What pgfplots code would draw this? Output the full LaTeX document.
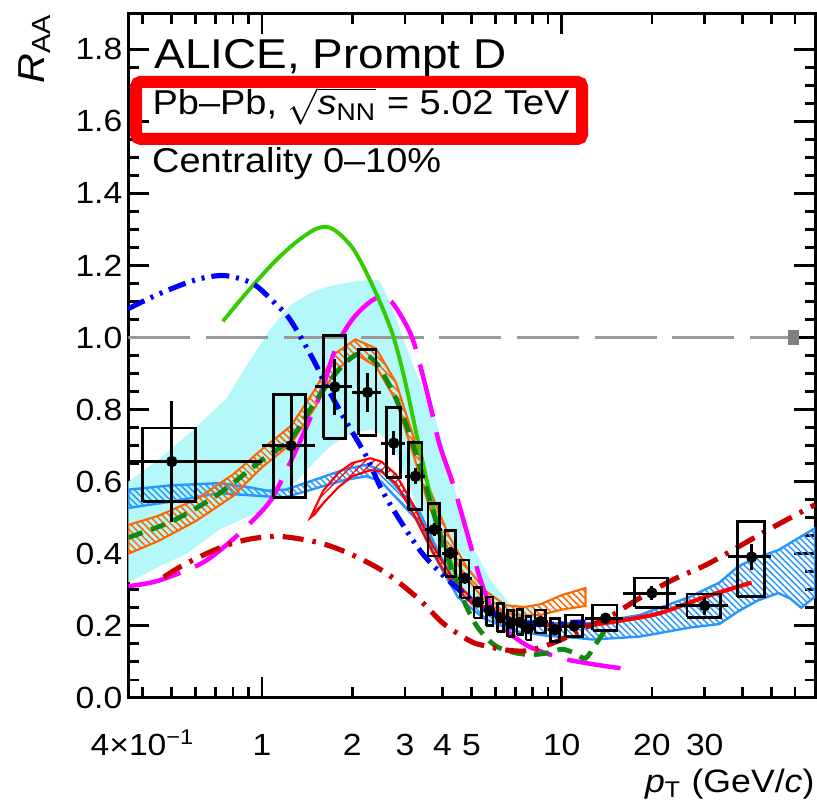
\documentclass[border=0pt]{standalone}
\usepackage{pgfplots}
\pgfplotsset{compat=1.18}
\usepackage{amsmath}
\usepackage{fontspec}
\setmainfont{Liberation Sans}[FakeStretch=1.1]
\usetikzlibrary{patterns,patterns.meta}
\definecolor{cyanband}{RGB}{180,248,250}
\definecolor{bandblue}{RGB}{40,150,255}
\definecolor{bandorange}{RGB}{255,102,0}
\definecolor{lgreen}{RGB}{51,204,0}
\definecolor{dgreen}{RGB}{17,136,17}
\definecolor{magL}{RGB}{255,0,255}
\definecolor{dred}{RGB}{204,0,0}
\definecolor{refgray}{RGB}{153,153,153}
\definecolor{normgray}{RGB}{128,128,128}
\begin{document}
\begin{tikzpicture}
\begin{axis}[
  scale only axis,
  width=228.9pt, height=228.2pt,
  xmode=log, xmin=0.358, xmax=70,
  ymin=0, ymax=1.9,
  axis line style={line width=1pt},
  every tick/.style={black, line width=0.9pt},
  tick align=inside,
  major tick length=7pt, minor tick length=3.5pt,
  xtick={1,10}, xticklabels={1,10},
  minor xtick={0.4,0.5,0.6,0.7,0.8,0.9,2,3,4,5,6,7,8,9,20,30,40,50,60},
  extra x ticks={0.4,2,3,4,5,20,30},
  extra x tick labels={4×10\textsuperscript{−1},2,3,4,5,20,30},
  extra x tick style={major tick length=3.5pt},
  ytick={0,0.2,0.4,0.6,0.8,1.0,1.2,1.4,1.6,1.8},
  minor y tick num=3,
  /pgf/number format/assume math mode=true,
  yticklabel={\pgfmathprintnumber[fixed,fixed zerofill,precision=1]{\tick}},
  tick label style={font=\fontsize{10.2}{12}\selectfont},
  xticklabel style={anchor=base, yshift=-19.3pt, inner sep=0pt},
  yticklabel style={anchor=east, inner sep=0pt, xshift=-1.8pt},
  every axis y label/.style={at={(rel axis cs:0,1)}, xshift=-27.8pt, rotate=90, anchor=base east, inner sep=0pt, font=\fontsize{12.5}{14}\selectfont},
  every axis x label/.style={at={(rel axis cs:1,0)}, yshift=-31.7pt, anchor=base east, inner sep=0pt, font=\fontsize{10.8}{13}\selectfont},
  ylabel={\textit{R}\textsubscript{AA}},
  xlabel={\textit{p}\textsubscript{T} (GeV/\textit{c})},
  clip=true,
]
% cyan band
\addplot[fill=cyanband, draw=none] coordinates {
(0.358,0.60) (0.45,0.66) (0.6,0.75) (0.76,0.83) (0.9,0.93) (1.06,1.02) (1.24,1.09) (1.5,1.13) (1.73,1.145) (2.0,1.155) (2.3,1.16) (2.45,1.16) (2.6,1.12) (2.78,1.06) (3.2,0.92) (3.78,0.78) (4.4,0.58) (5.0,0.42) (5.2,0.40) (5.75,0.33) (6.7,0.26) (7.5,0.255) (8.2,0.25)
(8.2,0.20) (7.0,0.20) (6.0,0.21) (5.0,0.26) (4.4,0.30) (3.72,0.39) (3.19,0.56) (2.8,0.68) (2.5,0.73) (2.3,0.745) (2.0,0.735) (1.7,0.70) (1.4,0.63) (1.2,0.57) (1.0,0.52) (0.72,0.467) (0.56,0.40) (0.434,0.356) (0.358,0.32)
} -- cycle;
% reference line at 1
\addplot[refgray, line width=1.1pt, dash pattern=on 20.7pt off 5.2pt] coordinates {(0.358,1) (57,1)};
\addplot[fill=normgray, draw=none] coordinates {(57,0.978) (62,0.978) (62,1.022) (57,1.022)} -- cycle;
% blue hatched band
\addplot[draw=bandblue, line width=0.8pt, pattern={Lines[angle=-45,distance=1.5pt,line width=0.5pt]}, pattern color=bandblue] coordinates {
(0.358,0.578) (0.5,0.59) (0.72,0.596) (0.9,0.585) (1.04,0.575) (1.2,0.578) (1.56,0.61) (1.9,0.635) (2.23,0.647) (2.5,0.632) (2.88,0.575) (3.36,0.515) (3.9,0.40) (4.5,0.31) (5.5,0.25) (7,0.218) (9,0.207) (11,0.207) (12.7,0.208) (18.2,0.23) (26.7,0.28) (33.6,0.32) (38.8,0.365) (45,0.39) (52.8,0.41) (70,0.471)
(70,0.281) (63,0.25) (58,0.275) (52.8,0.291) (45,0.27) (38.8,0.24) (33.6,0.205) (26.7,0.195) (18.2,0.17) (12.7,0.162) (11,0.167) (9,0.172) (7,0.185) (5.5,0.22) (4.5,0.28) (3.9,0.37) (3.36,0.485) (2.88,0.545) (2.5,0.60) (2.23,0.615) (1.9,0.605) (1.56,0.585) (1.2,0.557) (1.04,0.559) (0.72,0.568) (0.5,0.545) (0.358,0.527)
} -- cycle;
% orange hatched band
\addplot[draw=bandorange, line width=0.7pt, pattern={Lines[angle=-45,distance=1.6pt,line width=0.5pt]}, pattern color=bandorange] coordinates {
(0.358,0.48) (0.45,0.505) (0.6,0.55) (0.8,0.62) (1.0,0.69) (1.25,0.755) (1.5,0.855) (1.75,0.955) (2.05,0.995) (2.4,0.97) (2.8,0.875) (3.2,0.725) (3.6,0.585) (4.2,0.45) (4.8,0.365) (5.6,0.295) (6.5,0.257) (7.5,0.252) (8.5,0.26) (10,0.285) (12,0.305)
(12,0.255) (10,0.245) (8.5,0.23) (7.5,0.228) (6.5,0.233) (5.6,0.265) (4.8,0.335) (4.2,0.41) (3.6,0.535) (3.2,0.675) (2.8,0.825) (2.4,0.92) (2.05,0.955) (1.75,0.905) (1.5,0.805) (1.25,0.705) (1.0,0.64) (0.8,0.56) (0.6,0.49) (0.45,0.435) (0.358,0.40)
} -- cycle;
% red band (low pT)
\addplot[draw=red, line width=0.7pt, pattern={Lines[angle=45,distance=2pt,line width=0.4pt]}, pattern color=red] coordinates {
(1.45,0.50) (1.6,0.575) (1.8,0.625) (2.0,0.652) (2.3,0.665) (2.5,0.656) (2.8,0.62) (3.2,0.535) (3.7,0.425) (4.3,0.335) (5.0,0.275)
(5.0,0.262) (4.3,0.318) (3.7,0.405) (3.2,0.51) (2.8,0.595) (2.5,0.628) (2.3,0.632) (2.0,0.615) (1.8,0.585) (1.6,0.54) (1.5,0.51)
} -- cycle;
% red thick line (high pT)
\addplot[red, line width=1.4pt, smooth] coordinates {
(5.0,0.27) (6,0.235) (7,0.215) (8,0.205) (10,0.2) (12.7,0.203) (16.4,0.217) (21.2,0.235) (30.3,0.281) (43,0.32)};
% magenta long dashed
\addplot[magL, line width=1.5pt, dash pattern=on 18pt off 5.3pt, smooth] coordinates {
(0.358,0.31) (0.45,0.325) (0.63,0.374) (0.8,0.44) (0.985,0.513) (1.09,0.56) (1.27,0.67) (1.56,0.84) (1.77,0.975) (2.0,1.05) (2.26,1.095) (2.5,1.115) (2.7,1.10) (2.96,1.05) (3.2,0.99) (3.5,0.87) (3.72,0.78) (3.92,0.70) (4.35,0.59) (4.9,0.44) (5.3,0.34) (5.75,0.26) (6.5,0.19) (7.8,0.142) (10,0.11) (12,0.097) (14,0.088) (17.2,0.078)};
% green solid
\addplot[lgreen, line width=1.3pt, smooth] coordinates {
(0.74,1.045) (0.9,1.13) (1.1,1.21) (1.3,1.265) (1.5,1.30) (1.65,1.307) (1.8,1.29) (2.0,1.25) (2.2,1.19) (2.5,1.09) (2.75,1.0) (3.0,0.88) (3.3,0.72) (3.6,0.58) (3.9,0.47) (4.3,0.37) (4.6,0.31)};
% green dashed
\addplot[dgreen, line width=1.6pt, dash pattern=on 5pt off 3pt, smooth] coordinates {
(0.358,0.445) (0.5,0.49) (0.7,0.56) (1.0,0.66) (1.25,0.72) (1.5,0.82) (1.8,0.91) (2.1,0.955) (2.4,0.93) (2.8,0.83) (3.2,0.70) (3.6,0.56) (4.0,0.43) (4.6,0.29) (5.2,0.20) (6.0,0.145) (7.0,0.125) (8.0,0.12) (9.0,0.125) (10.0,0.135) (11.0,0.125) (12.0,0.11) (13.0,0.15) (14,0.19)};
% blue dash-dot-dot
\addplot[blue, line width=1.7pt, dash pattern=on 6pt off 2.3pt on 1pt off 2.3pt on 1pt off 2.3pt, smooth] coordinates {
(0.358,1.08) (0.45,1.12) (0.6,1.16) (0.75,1.172) (0.93,1.15) (1.09,1.10) (1.24,1.05) (1.48,0.94) (1.64,0.865) (1.92,0.763) (2.23,0.67) (2.5,0.58) (2.85,0.50) (3.36,0.41) (3.8,0.36) (4.4,0.31) (5.2,0.26) (6,0.23) (7,0.215) (8,0.205) (9,0.205) (10,0.205) (11,0.21) (12,0.21)};
% dark red dash-dot
\addplot[dred, line width=1.7pt, dash pattern=on 7pt off 3pt on 1.2pt off 3pt, smooth] coordinates {
(0.47,0.335) (0.55,0.37) (0.72,0.416) (0.9,0.44) (1.15,0.448) (1.56,0.43) (2.0,0.397) (2.6,0.346) (3.36,0.272) (4.02,0.207) (4.94,0.158) (5.5,0.145) (6.5,0.133) (7.5,0.13) (8.5,0.14) (10,0.162) (12,0.195) (14.5,0.226) (18.2,0.277) (23.5,0.328) (30.3,0.369) (39,0.42) (49,0.467) (65,0.522) (70,0.536)};
% systematic boxes
\addplot[black, line width=0.9pt, line join=miter, unbounded coords=jump] table {
x y
0.40 0.545
0.60 0.545
0.60 0.749
0.40 0.749
0.40 0.545
nan nan
1.09 0.557
1.40 0.557
1.40 0.842
1.09 0.842
1.09 0.557
nan nan
1.60 0.720
1.90 0.720
1.90 1.006
1.60 1.006
1.60 0.720
nan nan
2.10 0.729
2.40 0.729
2.40 0.967
2.10 0.967
2.10 0.729
nan nan
2.60 0.612
2.90 0.612
2.90 0.806
2.60 0.806
2.60 0.612
nan nan
3.08 0.522
3.42 0.522
3.42 0.709
3.08 0.709
3.08 0.522
nan nan
3.58 0.394
3.92 0.394
3.92 0.539
3.58 0.539
3.58 0.394
nan nan
4.08 0.337
4.42 0.337
4.42 0.465
4.08 0.465
4.08 0.337
nan nan
4.60 0.277
4.90 0.277
4.90 0.383
4.60 0.383
4.60 0.277
nan nan
5.10 0.222
5.40 0.222
5.40 0.306
5.10 0.306
5.10 0.222
nan nan
5.60 0.200
5.90 0.200
5.90 0.280
5.60 0.280
5.60 0.200
nan nan
6.10 0.184
6.40 0.184
6.40 0.262
6.10 0.262
6.10 0.184
nan nan
6.60 0.170
6.90 0.170
6.90 0.242
6.60 0.242
6.60 0.170
nan nan
7.10 0.175
7.40 0.175
7.40 0.246
7.10 0.246
7.10 0.175
nan nan
7.60 0.161
7.90 0.161
7.90 0.226
7.60 0.226
7.60 0.161
nan nan
8.15 0.180
8.85 0.180
8.85 0.244
8.15 0.244
8.15 0.180
nan nan
9.15 0.156
9.85 0.156
9.85 0.221
9.15 0.221
9.15 0.156
nan nan
10.3 0.170
11.7 0.170
11.7 0.230
10.3 0.230
10.3 0.170
nan nan
12.7 0.187
15.3 0.187
15.3 0.258
12.7 0.258
12.7 0.187
nan nan
17.5 0.251
22.5 0.251
22.5 0.333
17.5 0.333
17.5 0.251
nan nan
26.2 0.224
33.8 0.224
33.8 0.288
26.2 0.288
26.2 0.224
nan nan
38.5 0.281
47.5 0.281
47.5 0.490
38.5 0.490
38.5 0.281
};
% data points with statistical errors
\addplot[black, only marks, mark=*, mark size=1.7pt,
  error bars/.cd, x dir=both, x explicit, y dir=both, y explicit, error mark=none,
  error bar style={line width=1pt, black}]
  table[x=x, y=y, x error minus=xm, x error plus=xp, y error=ey] {
x y xm xp ey
0.5 0.656 0.45 0.5 0.168
1.25 0.700 0.25 0.25 0.14
1.75 0.863 0.25 0.25 0.078
2.25 0.848 0.25 0.25 0.054
2.75 0.707 0.25 0.25 0.034
3.25 0.615 0.25 0.25 0.022
3.75 0.467 0.25 0.25 0.018
4.25 0.402 0.25 0.25 0.016
4.75 0.332 0.25 0.25 0.014
5.25 0.266 0.25 0.25 0.012
5.75 0.242 0.25 0.25 0.011
6.25 0.222 0.25 0.25 0.010
6.75 0.207 0.25 0.25 0.010
7.25 0.210 0.25 0.25 0.010
7.75 0.193 0.25 0.25 0.010
8.5 0.212 0.5 0.5 0.010
9.5 0.189 0.5 0.5 0.010
11 0.199 1 1 0.012
14 0.221 2 2 0.012
20 0.291 4 4 0.020
30 0.256 6 6 0.025
43 0.391 7 7 0.035
};
% texts
\node[anchor=base west, inner sep=0pt, font=\fontsize{13.9}{16}\selectfont] at (rel axis cs:0.0375,0.919) {ALICE, Prompt D};
\draw[red, line width=4pt, rounded corners=1.5pt] (rel axis cs:0.0114,0.8165) rectangle (rel axis cs:0.6607,0.8997);
\node[anchor=base west, inner sep=0pt, font=\fontsize{11.5}{13}\selectfont] at (rel axis cs:0.0345,0.8515) {Pb–Pb, \smash{$\sqrt{\textit{s}_{\textrm{NN}}}$} = 5.02 TeV};
\node[anchor=base west, inner sep=0pt, font=\fontsize{11.5}{13}\selectfont] at (rel axis cs:0.034,0.7668) {Centrality 0–10\%};
\end{axis}
\pgfresetboundingbox
\path ([shift={(-42.77pt,-34.33pt)}]current axis.south west) rectangle ([shift={(0.67pt,4.43pt)}]current axis.north east);
\end{tikzpicture}
\end{document}
